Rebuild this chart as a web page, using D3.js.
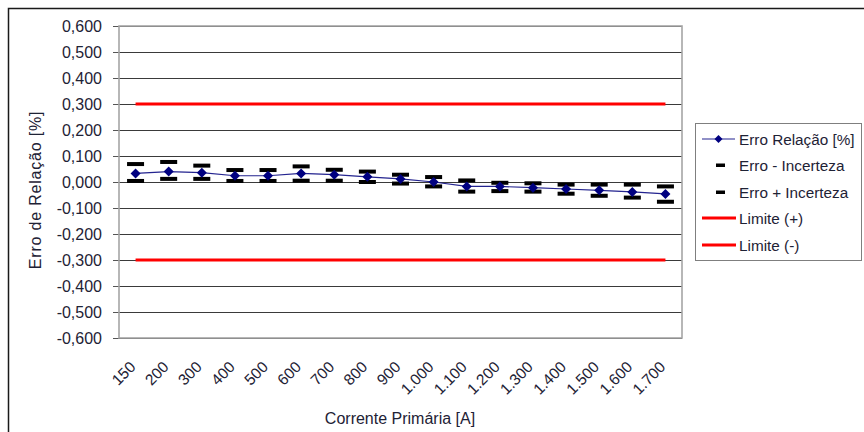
<!DOCTYPE html>
<html>
<head>
<meta charset="utf-8">
<script src="https://cdn.jsdelivr.net/npm/d3@7"></script>
<style>
  html, body { margin: 0; padding: 0; background: #fff; }
  svg { display: block; font-family: "Liberation Sans", Arial, sans-serif; }
</style>
</head>
<body>
<svg id="chart" width="864" height="432"></svg>
<script>
// Corrente primária (A) – categorias do eixo X
const categories = ["150", "200", "300", "400", "500", "600", "700", "800", "900",
  "1.000", "1.100", "1.200", "1.300", "1.400", "1.500", "1.600", "1.700"];

// Erro de relação medido [%]
const erroRelacao = [0.033, 0.040, 0.036, 0.024, 0.024, 0.033, 0.028, 0.020, 0.012,
  0.000, -0.017, -0.017, -0.022, -0.027, -0.032, -0.038, -0.046];

// Erro menos a incerteza [%]
const erroMenosIncerteza = [0.004, 0.012, 0.012, 0.004, 0.004, 0.005, 0.005, 0.000, -0.006,
  -0.017, -0.037, -0.035, -0.037, -0.045, -0.053, -0.060, -0.076];

// Erro mais a incerteza [%]
const erroMaisIncerteza = [0.069, 0.077, 0.063, 0.046, 0.046, 0.060, 0.047, 0.040, 0.028,
  0.019, 0.006, -0.003, -0.005, -0.010, -0.010, -0.010, -0.017];

// Limites de exatidão [%]
const limiteMais = [0.3, 0.3, 0.3, 0.3, 0.3, 0.3, 0.3, 0.3, 0.3, 0.3, 0.3, 0.3, 0.3, 0.3, 0.3, 0.3, 0.3];
const limiteMenos = [-0.3, -0.3, -0.3, -0.3, -0.3, -0.3, -0.3, -0.3, -0.3, -0.3, -0.3, -0.3, -0.3, -0.3, -0.3, -0.3, -0.3];

// Marcas do eixo Y
const yTicks = [-0.6, -0.5, -0.4, -0.3, -0.2, -0.1, 0, 0.1, 0.2, 0.3, 0.4, 0.5, 0.6];

// Nomes das séries (legenda)
const seriesNames = ["Erro Relação [%]", "Erro - Incerteza", "Erro + Incerteza", "Limite (+)", "Limite (-)"];

const svg = d3.select("#chart");
const plot = { left: 119, right: 682, top: 26, bottom: 338 };

const x = d3.scaleBand().domain(categories).range([plot.left, plot.right]).padding(0);
const y = d3.scaleLinear().domain([-0.6, 0.6]).range([plot.bottom, plot.top]);
const cx = c => x(c) + x.bandwidth() / 2;

const fmt = v => {
  const s = Math.abs(v).toFixed(3).replace(".", ",");
  return (v < -1e-9 ? "-" : "") + s;
};

// Losango (quadrado girado 45°) de meia-diagonal r
const diamondPath = r => `M0,${-r}L${r},0L0,${r}L${-r},0Z`;

// Moldura externa (topo e esquerda)
svg.append("path")
  .attr("d", "M8.5,864 V8.5 H864")
  .attr("fill", "none").attr("stroke", "#1a1a1a").attr("stroke-width", 1.5);

// Linhas de grade horizontais
svg.append("g")
  .selectAll("line").data(yTicks).join("line")
  .attr("x1", plot.left).attr("x2", plot.right)
  .attr("y1", d => Math.round(y(d)) + 0.5).attr("y2", d => Math.round(y(d)) + 0.5)
  .attr("stroke", "#3a3a3a").attr("stroke-width", 1);

// Eixo Y
const yAxis = d3.axisLeft(y).tickValues(yTicks).tickFormat(fmt).tickSize(6).tickPadding(11);
const gy = svg.append("g").attr("transform", `translate(${plot.left},0)`).call(yAxis);
gy.select(".domain").remove();
gy.selectAll(".tick line").attr("stroke", "#555");
gy.selectAll(".tick text")
  .attr("font-size", 16).attr("fill", "#1e2235")
  .attr("font-family", "'Liberation Sans', Arial, sans-serif");

// Borda da área de plotagem
svg.append("rect")
  .attr("x", plot.left).attr("y", plot.top)
  .attr("width", plot.right - plot.left).attr("height", plot.bottom - plot.top)
  .attr("fill", "none").attr("stroke", "#a6a6a6").attr("stroke-width", 1.6);

// Eixo X (rótulos inclinados)
const xAxis = d3.axisBottom(x).tickSize(0).tickPadding(0);
const gx = svg.append("g").attr("transform", `translate(0,${plot.bottom})`).call(xAxis);
gx.select(".domain").remove();
gx.selectAll(".tick text")
  .attr("font-size", 15.5).attr("fill", "#1e2235")
  .attr("font-family", "'Liberation Sans', Arial, sans-serif")
  .attr("text-anchor", "end")
  .attr("dy", null)
  .attr("transform", "translate(1,30) rotate(-45)");

// Títulos dos eixos
svg.append("text")
  .attr("x", 400).attr("y", 424)
  .attr("text-anchor", "middle").attr("font-size", 16).attr("fill", "#1e2235")
  .text("Corrente Primária [A]");

svg.append("text")
  .attr("transform", "translate(41,190) rotate(-90)")
  .attr("text-anchor", "middle").attr("font-size", 16).attr("fill", "#1e2235")
  .attr("letter-spacing", 0.8)
  .text("Erro de Relação [%]");

// Limites
const lineGen = vals => d3.line().x((d, i) => cx(categories[i])).y(d => y(d))(vals);
[limiteMais, limiteMenos].forEach(vals => {
  svg.append("path").attr("d", lineGen(vals))
    .attr("fill", "none").attr("stroke", "#ff0000").attr("stroke-width", 3);
});

// Linha do erro de relação
svg.append("path").attr("d", lineGen(erroRelacao))
  .attr("fill", "none").attr("stroke", "#23238f").attr("stroke-width", 1.2);

// Marcadores da incerteza (traços)
const dashW = 17, dashH = 4;
[erroMenosIncerteza, erroMaisIncerteza].forEach(vals => {
  svg.append("g").selectAll("rect").data(vals).join("rect")
    .attr("x", (d, i) => cx(categories[i]) - dashW / 2)
    .attr("y", d => y(d) - dashH / 2)
    .attr("width", dashW).attr("height", dashH)
    .attr("fill", "#000");
});

// Marcadores (losangos) do erro de relação
svg.append("g").selectAll("path").data(erroRelacao).join("path")
  .attr("transform", (d, i) => `translate(${cx(categories[i])},${y(d)})`)
  .attr("d", diamondPath(5))
  .attr("fill", "#000080");

// Legenda
const lg = svg.append("g");
lg.append("rect").attr("x", 695.5).attr("y", 123.5).attr("width", 166).attr("height", 137)
  .attr("fill", "#fff").attr("stroke", "#7f7f7f").attr("stroke-width", 1);
const rowY = [139, 165, 192, 218, 245];
seriesNames.forEach((name, i) => {
  const yy = rowY[i];
  if (i === 0) {
    lg.append("line").attr("x1", 702).attr("x2", 735).attr("y1", yy).attr("y2", yy)
      .attr("stroke", "#23238f").attr("stroke-width", 1.2);
    lg.append("path").attr("transform", `translate(718.5,${yy})`)
      .attr("d", diamondPath(4)).attr("fill", "#000080");
  } else if (i < 3) {
    lg.append("rect").attr("x", 716).attr("y", yy - 1.5).attr("width", 9).attr("height", 3.5)
      .attr("fill", "#000");
  } else {
    lg.append("line").attr("x1", 702).attr("x2", 736).attr("y1", yy).attr("y2", yy)
      .attr("stroke", "#ff0000").attr("stroke-width", 3);
  }
  lg.append("text").attr("x", 739).attr("y", yy).attr("dy", "0.36em")
    .attr("font-size", 15.3).attr("fill", "#1e2235").text(name);
});
</script>
</body>
</html>
